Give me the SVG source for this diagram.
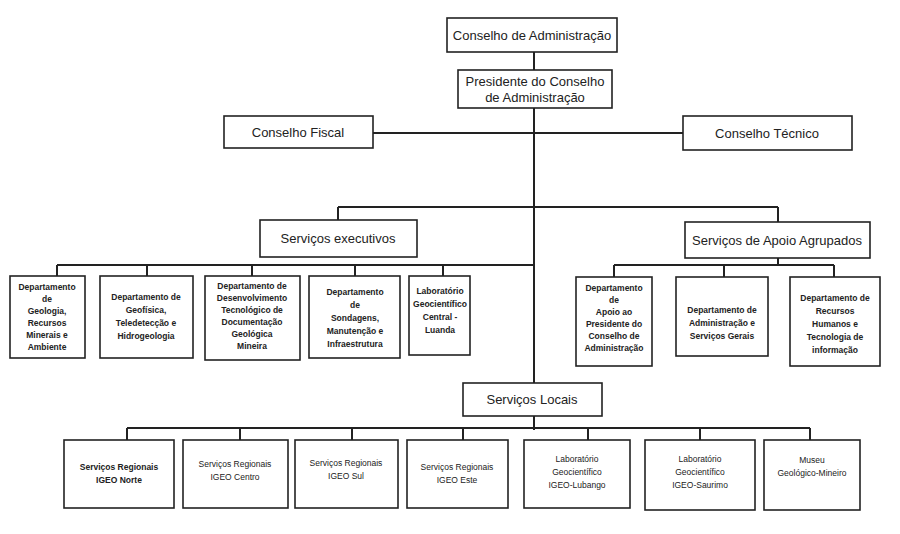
<svg xmlns="http://www.w3.org/2000/svg" width="900" height="534" viewBox="0 0 900 534">
<style>
rect{fill:#fff;stroke:#222;stroke-width:1.6}
text{font-family:"Liberation Sans",Arial,sans-serif;fill:#222;text-anchor:middle}
.h{font-size:13px}
.s{font-size:8.5px;font-weight:bold}
.l{font-size:8.5px}
#c path{stroke:#222;stroke-width:2;fill:none}
</style>
<rect x="0" y="0" width="900" height="534" style="fill:#fff;stroke:none"/>
<g id="c">
<path d="M534 52V70M534 108V430M373 133H683M338 207H778M338 207V220M778 207V222M57 265H534M57 265V276M147 265V276M252 265V276M355 265V276M443 265V276M778 258V265M614 265H834M614 265V277M724 265V277M834 265V277M127 428H810M127 428V440M240 428V440M352 428V440M463 428V440M588 428V440M700 428V440M810 428V440"/>
</g>
<g id="n1"><rect x="447" y="18" width="170" height="34"/><text class="h" x="532" y="40">Conselho de Administração</text></g>
<g id="n2"><rect x="458" y="70" width="154" height="38"/><text class="h" x="535" y="86">Presidente do Conselho</text><text class="h" x="535" y="102">de Administração</text></g>
<g id="n3"><rect x="224" y="116" width="149" height="32"/><text class="h" x="298" y="137">Conselho Fiscal</text></g>
<g id="n4"><rect x="683" y="116" width="169" height="34"/><text class="h" x="767" y="138">Conselho Técnico</text></g>
<g id="n5"><rect x="260" y="220" width="157" height="37"/><text class="h" x="338" y="243">Serviços executivos</text></g>
<g id="n6"><rect x="685" y="222" width="185" height="36"/><text class="h" x="777" y="245">Serviços de Apoio Agrupados</text></g>
<g id="n7"><rect x="10" y="276" width="75" height="82"/><text class="s" x="47" y="290">Departamento</text><text class="s" x="47" y="302">de</text><text class="s" x="47" y="314">Geologia,</text><text class="s" x="47" y="326">Recursos</text><text class="s" x="47" y="338">Minerais e</text><text class="s" x="47" y="350">Ambiente</text></g>
<g id="n8"><rect x="100" y="276" width="93" height="82"/><text class="s" x="146" y="300">Departamento de</text><text class="s" x="146" y="313">Geofísica,</text><text class="s" x="146" y="326">Teledetecção e</text><text class="s" x="146" y="339">Hidrogeologia</text></g>
<g id="n9"><rect x="205" y="276" width="95" height="84"/><text class="s" x="252" y="289">Departamento de</text><text class="s" x="252" y="301">Desenvolvimento</text><text class="s" x="252" y="313">Tecnológico de</text><text class="s" x="252" y="325">Documentação</text><text class="s" x="252" y="337">Geológica</text><text class="s" x="252" y="349">Mineira</text></g>
<g id="n10"><rect x="309" y="276" width="91" height="82"/><text class="s" x="355" y="295">Departamento</text><text class="s" x="355" y="308">de</text><text class="s" x="355" y="321">Sondagens,</text><text class="s" x="355" y="334">Manutenção e</text><text class="s" x="355" y="347">Infraestrutura</text></g>
<g id="n11"><rect x="409" y="276" width="61" height="79"/><text class="s" x="440" y="294">Laboratório</text><text class="s" x="440" y="307">Geocientífico</text><text class="s" x="440" y="320">Central -</text><text class="s" x="440" y="333">Luanda</text></g>
<g id="n12"><rect x="576" y="277" width="76" height="89"/><text class="s" x="614" y="291">Departamento</text><text class="s" x="614" y="303">de</text><text class="s" x="614" y="315">Apoio ao</text><text class="s" x="614" y="327">Presidente do</text><text class="s" x="614" y="339">Conselho de</text><text class="s" x="614" y="351">Administração</text></g>
<g id="n13"><rect x="676" y="277" width="92" height="79"/><text class="s" x="722" y="313">Departamento de</text><text class="s" x="722" y="326">Administração e</text><text class="s" x="722" y="339">Serviços Gerais</text></g>
<g id="n14"><rect x="790" y="277" width="90" height="89"/><text class="s" x="835" y="301">Departamento de</text><text class="s" x="835" y="314">Recursos</text><text class="s" x="835" y="327">Humanos e</text><text class="s" x="835" y="340">Tecnologia de</text><text class="s" x="835" y="353">informação</text></g>
<g id="n15"><rect x="463" y="383" width="139" height="33"/><text class="h" x="532" y="404">Serviços Locais</text></g>
<g id="n16"><rect x="64" y="440" width="110" height="68"/><text class="s" x="119" y="470">Serviços Regionais</text><text class="s" x="119" y="483">IGEO Norte</text></g>
<g id="n17"><rect x="183" y="440" width="105" height="68"/><text class="l" x="235" y="467">Serviços Regionais</text><text class="l" x="235" y="480">IGEO Centro</text></g>
<g id="n18"><rect x="295" y="440" width="103" height="68"/><text class="l" x="346" y="466">Serviços Regionais</text><text class="l" x="346" y="479">IGEO Sul</text></g>
<g id="n19"><rect x="407" y="440" width="101" height="68"/><text class="l" x="457" y="470">Serviços Regionais</text><text class="l" x="457" y="483">IGEO Este</text></g>
<g id="n20"><rect x="524" y="440" width="106" height="68"/><text class="l" x="577" y="462">Laboratório</text><text class="l" x="577" y="475">Geocientífico</text><text class="l" x="577" y="488">IGEO-Lubango</text></g>
<g id="n21"><rect x="645" y="440" width="110" height="70"/><text class="l" x="700" y="462">Laboratório</text><text class="l" x="700" y="475">Geocientífico</text><text class="l" x="700" y="488">IGEO-Saurimo</text></g>
<g id="n22"><rect x="764" y="440" width="96" height="70"/><text class="l" x="812" y="463">Museu</text><text class="l" x="812" y="476">Geológico-Mineiro</text></g>
</svg>
